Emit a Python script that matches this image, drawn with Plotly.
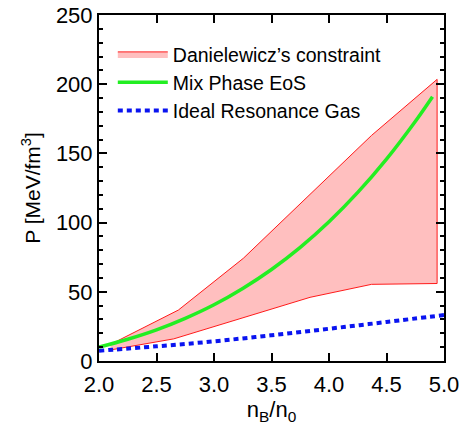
import plotly.graph_objects as go

# Danielewicz constraint band
band_upper_x = [2.1, 2.69, 3.255, 4.37, 4.94]
band_upper_y = [12.0, 36.8, 74.2, 163.0, 203.5]
band_lower_x = [2.1, 2.65, 3.835, 4.37, 4.94]
band_lower_y = [8.0, 16.0, 46.0, 55.4, 56.0]

# Mix Phase EoS
mix_x = [2.0, 2.25, 2.5, 2.75, 3.0, 3.25, 3.5, 3.75, 4.0, 4.25, 4.5, 4.75, 4.9]
mix_y = [10.0, 15.7, 22.5, 30.8, 40.6, 52.4, 66.1, 82.1, 100.6, 121.8, 145.9, 173.1, 191.0]

# Ideal Resonance Gas
irg_x = [2.0, 2.5, 3.0, 3.5, 4.0, 4.5, 5.0]
irg_y = [7.4, 10.6, 14.2, 18.6, 23.3, 28.2, 33.2]

FONT = "Liberation Sans, Arial, Helvetica, sans-serif"

fig = go.Figure()
fig.add_trace(go.Scatter(
    x=band_upper_x + band_lower_x[::-1],
    y=band_upper_y + band_lower_y[::-1],
    fill="toself", fillcolor="#FFBFBF",
    line=dict(color="#FF1A1A", width=1),
    mode="lines", name="Danielewicz’s constraint", legendrank=1,
))
fig.add_trace(go.Scatter(
    x=irg_x, y=irg_y, mode="lines", line_shape="spline",
    line=dict(color="#0A14F0", width=4, dash="5px,4px"),
    name="Ideal Resonance Gas", legendrank=3,
))
fig.add_trace(go.Scatter(
    x=mix_x, y=mix_y, mode="lines", line_shape="spline",
    line=dict(color="#22EE22", width=3.5),
    name="Mix Phase EoS", legendrank=2,
))

axis_common = dict(
    showline=True, linecolor="black", linewidth=2, mirror="ticks",
    ticks="inside", ticklen=8, tickwidth=1.5, tickcolor="black",
    showgrid=False, zeroline=False, automargin=False,
    tickfont=dict(family=FONT, size=22, color="black"),
)

fig.update_xaxes(range=[2, 5], dtick=0.5, tickformat=".1f", ticklabelstandoff=3,
                 title=dict(text="n<sub>B</sub>/n<sub>0</sub>", font=dict(family=FONT, size=22, color="black"), standoff=4),
                 **axis_common)
fig.update_yaxes(range=[0, 250], dtick=50,
                 minor=dict(dtick=10, ticks="inside", ticklen=4, tickwidth=1.5, tickcolor="black"),
                 title=dict(text="P [MeV/fm<sup>3</sup>]", font=dict(family=FONT, size=21, color="black"), standoff=10),
                 **axis_common)

fig.update_layout(
    width=461, height=428,
    margin=dict(l=99, r=17, t=15, b=67, autoexpand=False),
    plot_bgcolor="white", paper_bgcolor="white",
    font=dict(family=FONT, color="black"),
    legend=dict(x=0.04, y=0.943, xanchor="left", yanchor="top",
                bgcolor="rgba(0,0,0,0)", font=dict(family=FONT, size=19.5, color="black"),
                tracegroupgap=0, itemwidth=50),
    showlegend=True,
)

fig.write_html("out.html")
